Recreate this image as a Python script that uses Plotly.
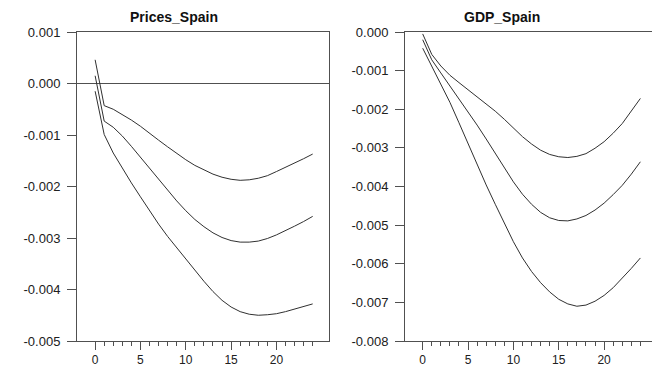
import plotly.graph_objects as go

# Impulse responses over 0..24 periods: lower band, point estimate, upper band
steps = list(range(25))

prices_upper = [0.00046, -0.00043, -0.00050, -0.00060, -0.00071, -0.00083, -0.00097,
                -0.00110, -0.00123, -0.00136, -0.00148, -0.00159, -0.00168, -0.00176,
                -0.00182, -0.00186, -0.00188, -0.00187, -0.00184, -0.00179, -0.00171,
                -0.00163, -0.00155, -0.00146, -0.00137]
prices_mid = [0.00015, -0.00073, -0.00085, -0.00102, -0.00122, -0.00143, -0.00165,
              -0.00187, -0.00208, -0.00228, -0.00247, -0.00264, -0.00278, -0.00290,
              -0.00299, -0.00305, -0.00308, -0.00308, -0.00306, -0.00301, -0.00294,
              -0.00286, -0.00277, -0.00268, -0.00258]
prices_lower = [-0.00015, -0.00099, -0.00135, -0.00165, -0.00193, -0.00220, -0.00247,
                -0.00273, -0.00297, -0.00319, -0.00340, -0.00362, -0.00384, -0.00404,
                -0.00421, -0.00434, -0.00443, -0.00448, -0.00450, -0.00449, -0.00447,
                -0.00443, -0.00438, -0.00433, -0.00428]

gdp_upper = [-0.00005, -0.00058, -0.00088, -0.00112, -0.00131, -0.00149, -0.00167,
             -0.00186, -0.00205, -0.00226, -0.00249, -0.00271, -0.00290, -0.00306,
             -0.00317, -0.00323, -0.00325, -0.00322, -0.00315, -0.00301, -0.00284,
             -0.00262, -0.00237, -0.00206, -0.00172]
gdp_mid = [-0.00020, -0.00072, -0.00106, -0.00139, -0.00172, -0.00206, -0.00241,
           -0.00277, -0.00314, -0.00351, -0.00388, -0.00420, -0.00446, -0.00467,
           -0.00481, -0.00488, -0.00489, -0.00484, -0.00475, -0.00461, -0.00443,
           -0.00421, -0.00397, -0.00368, -0.00336]
gdp_lower = [-0.00042, -0.00090, -0.00135, -0.00182, -0.00235, -0.00290, -0.00345,
             -0.00396, -0.00446, -0.00496, -0.00543, -0.00585, -0.00620, -0.00649,
             -0.00673, -0.00692, -0.00704, -0.00710, -0.00707, -0.00697, -0.00682,
             -0.00662, -0.00638, -0.00612, -0.00585]

panel_titles = ["Prices_Spain", "GDP_Spain"]

x_major = [0, 5, 10, 15, 20]
x_minor = [v for v in steps if v % 5 != 0]

prices_ticks = [0.001, 0.0, -0.001, -0.002, -0.003, -0.004, -0.005]
prices_ticktext = ["0.001", "0.000", "-0.001", "-0.002", "-0.003", "-0.004", "-0.005"]
gdp_ticks = [0.0, -0.001, -0.002, -0.003, -0.004, -0.005, -0.006, -0.007, -0.008]
gdp_ticktext = ["0.000", "-0.001", "-0.002", "-0.003", "-0.004", "-0.005",
                "-0.006", "-0.007", "-0.008"]

W, H = 652, 366
LINE = "#303030"
AXIS = "#505050"
FONT = "Liberation Sans, Arial, sans-serif"

fig = go.Figure()
for series in (prices_upper, prices_mid, prices_lower):
    fig.add_trace(go.Scatter(x=steps, y=series, mode="lines", xaxis="x", yaxis="y",
                             line=dict(color=LINE, width=1), showlegend=False,
                             hoverinfo="skip"))
for series in (gdp_upper, gdp_mid, gdp_lower):
    fig.add_trace(go.Scatter(x=steps, y=series, mode="lines", xaxis="x2", yaxis="y2",
                             line=dict(color=LINE, width=1), showlegend=False,
                             hoverinfo="skip"))

ydom = [1 - 341 / H, 1 - 32 / H]

def xaxis_style(domain, rng, anchor):
    return dict(domain=domain, range=rng, anchor=anchor, showgrid=False, zeroline=False,
                showline=True, mirror=True, linecolor=AXIS, linewidth=1,
                tickmode="array", tickvals=x_major, ticks="outside", ticklen=8,
                tickcolor=AXIS, tickwidth=1,
                tickfont=dict(family=FONT, size=12, color="#202020"),
                minor=dict(tickmode="array", tickvals=x_minor, ticks="outside",
                           ticklen=4, tickcolor=AXIS, tickwidth=1, showgrid=False),
                automargin=False, fixedrange=True)

def yaxis_style(rng, anchor, tickvals, ticktext, mirror, zeroline):
    return dict(domain=ydom, range=rng, anchor=anchor, showgrid=False,
                zeroline=zeroline, zerolinecolor="#505050", zerolinewidth=1,
                showline=True, mirror=mirror, linecolor=AXIS, linewidth=1,
                tickmode="array", tickvals=tickvals, ticktext=ticktext,
                ticks="outside", ticklen=9, tickcolor=AXIS, tickwidth=1,
                ticklabelstandoff=4,
                tickfont=dict(family=FONT, size=13, color="#202020"),
                automargin=False, fixedrange=True)

fig.update_layout(
    width=W, height=H,
    margin=dict(l=0, r=0, t=0, b=0, pad=0, autoexpand=False),
    paper_bgcolor="white", plot_bgcolor="white",
    xaxis=xaxis_style([77 / W, 329 / W], [-2.0, 25.8], "y"),
    yaxis=yaxis_style([-0.005, 0.001], "x", prices_ticks, prices_ticktext, True, True),
    xaxis2=xaxis_style([405 / W, 1.0], [-1.95, 25.28], "y2"),
    yaxis2=yaxis_style([-0.008, 0.0], "x2", gdp_ticks, gdp_ticktext, False, False),
    annotations=[
        dict(text="<b>%s</b>" % panel_titles[0], x=174 / W, y=1 - 17 / H,
             xref="paper", yref="paper", xanchor="center", yanchor="middle",
             showarrow=False, font=dict(family=FONT, size=14, color="#101010")),
        dict(text="<b>%s</b>" % panel_titles[1], x=502 / W, y=1 - 17 / H,
             xref="paper", yref="paper", xanchor="center", yanchor="middle",
             showarrow=False, font=dict(family=FONT, size=14, color="#101010")),
    ],
)

fig.write_html("out.html")
